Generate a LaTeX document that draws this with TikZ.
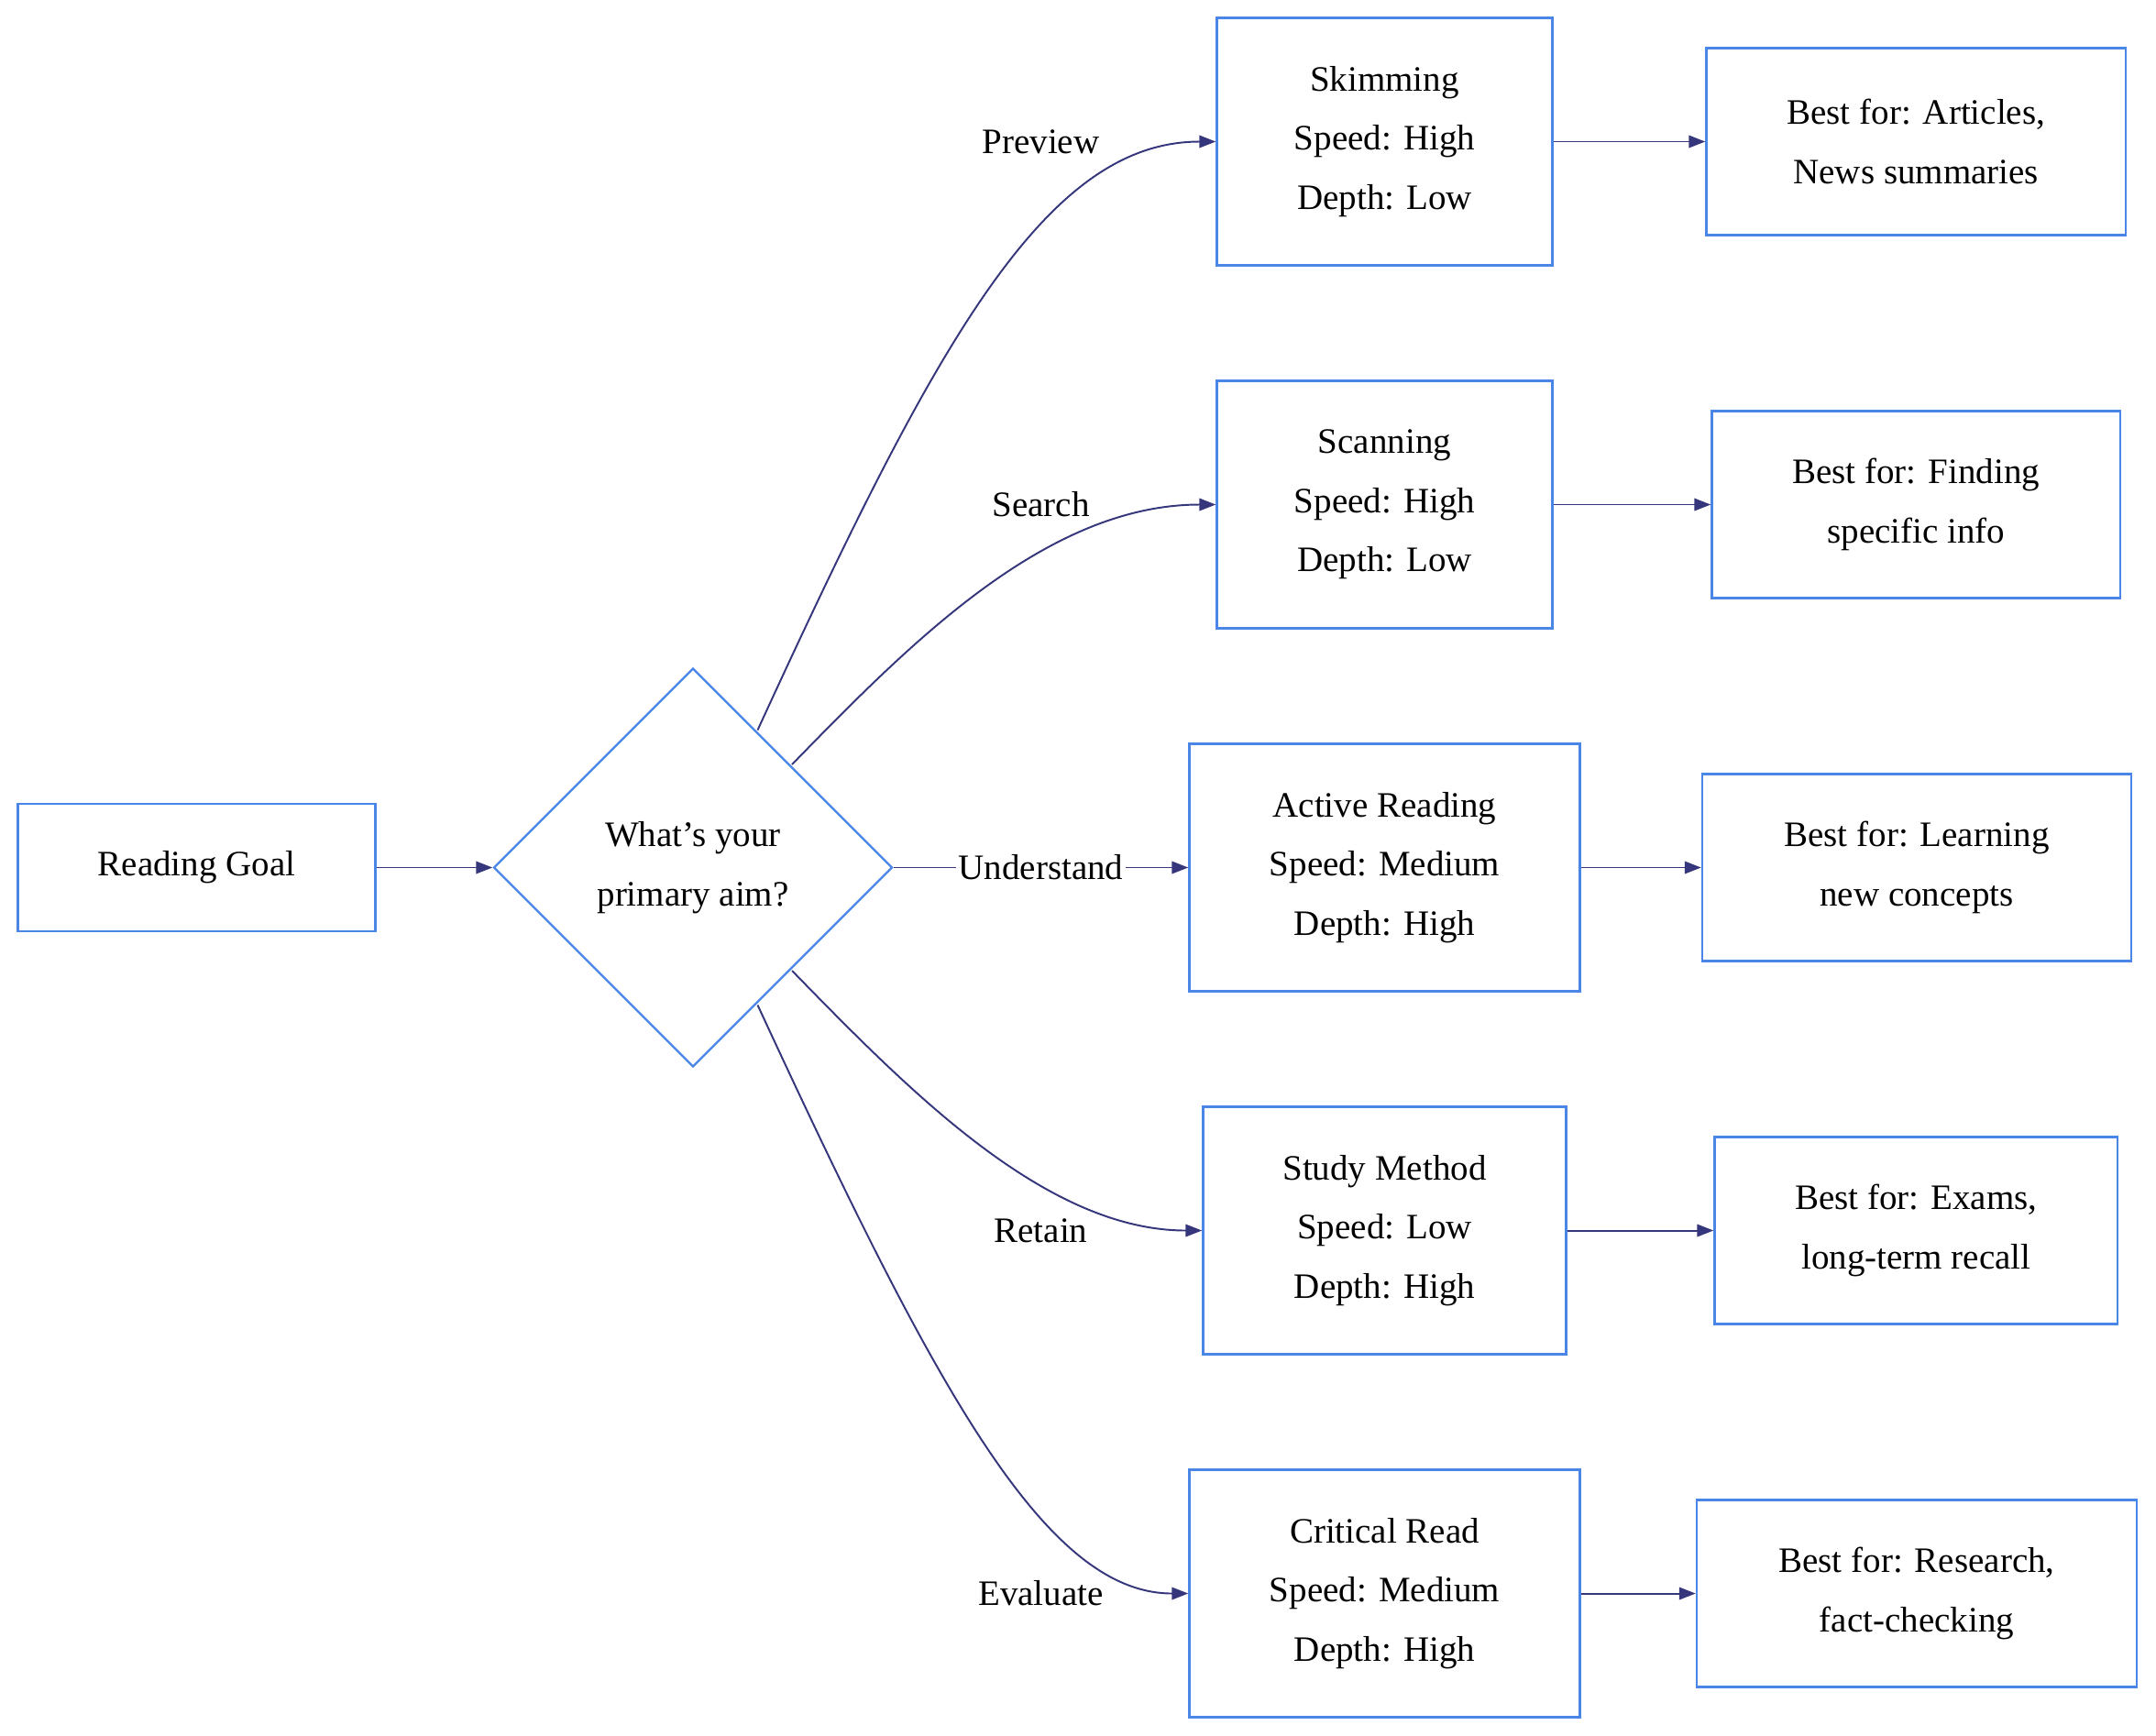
\documentclass[tikz,border=0pt]{standalone}
\usepackage{fontspec}
\setmainfont{Liberation Serif}
\usetikzlibrary{shapes.geometric,arrows.meta}
\begin{document}
\begin{tikzpicture}[x=1pt,y=-1pt,
 box/.style={draw=blue!60!cyan!80!black, line width=1.6pt, fill=white, align=center, font=\fontsize{26}{43}\selectfont, inner sep=0pt},
 arr/.style={draw=gray!60!blue!70!black, line width=1.3pt, -{Triangle[length=12pt,width=9pt]}},
 lab/.style={fill=white, inner sep=2pt, font=\fontsize{26}{30}\selectfont}]
\useasboundingbox (0,0) rectangle (1568,1262);
\definecolor{bl}{HTML}{4A86E8}
\tikzset{box/.append style={draw=bl}}
\node[box, minimum width=260pt, minimum height=93pt] (goal) at (143,631) {Reading Goal};
\node[box, diamond, minimum width=290pt, minimum height=290pt, aspect=1] (dec) at (504,631) {What's your\\primary aim?};
\node[box, minimum width=244pt, minimum height=180pt] (s1) at (1007,103) {Skimming\\Speed: High\\Depth: Low};
\node[box, minimum width=244pt, minimum height=180pt] (s2) at (1007,367) {Scanning\\Speed: High\\Depth: Low};
\node[box, minimum width=284pt, minimum height=180pt] (s3) at (1007,631) {Active Reading\\Speed: Medium\\Depth: High};
\node[box, minimum width=264pt, minimum height=180pt] (s4) at (1007,895) {Study Method\\Speed: Low\\Depth: High};
\node[box, minimum width=284pt, minimum height=180pt] (s5) at (1007,1159) {Critical Read\\Speed: Medium\\Depth: High};
\node[box, minimum width=305pt, minimum height=136pt] (b1) at (1393.5,103) {Best for: Articles,\\News summaries};
\node[box, minimum width=297pt, minimum height=136pt] (b2) at (1393.5,367) {Best for: Finding\\specific info};
\node[box, minimum width=312pt, minimum height=136pt] (b3) at (1394,631) {Best for: Learning\\new concepts};
\node[box, minimum width=293pt, minimum height=136pt] (b4) at (1393.5,895) {Best for: Exams,\\long-term recall};
\node[box, minimum width=320pt, minimum height=136pt] (b5) at (1394,1159) {Best for: Research,\\fact-checking};
\coordinate (p1) at (551,531); \coordinate (p2) at (576,556);
\coordinate (p4) at (576,706); \coordinate (p5) at (551,731);
\draw[arr] (goal) -- (dec);
\draw[arr] (p1) .. controls (680,250) and (760,103) .. (s1.west);
\draw[arr] (p2) .. controls (660,470) and (760,367) .. (s2.west);
\draw[arr] (dec.east) -- (s3.west);
\draw[arr] (p4) .. controls (660,792) and (760,895) .. (s4.west);
\draw[arr] (p5) .. controls (680,1010) and (760,1159) .. (s5.west);
\node[lab] (l1) at (757,103) {Preview};
\node[lab] (l2) at (757,367) {Search};
\node[lab] (l3) at (757,631) {Understand};
\node[lab] (l4) at (757,895) {Retain};
\node[lab] (l5) at (757,1159) {Evaluate};
\foreach \i in {1,...,5} \draw[arr] (s\i) -- (b\i);
\end{tikzpicture}
\end{document}
